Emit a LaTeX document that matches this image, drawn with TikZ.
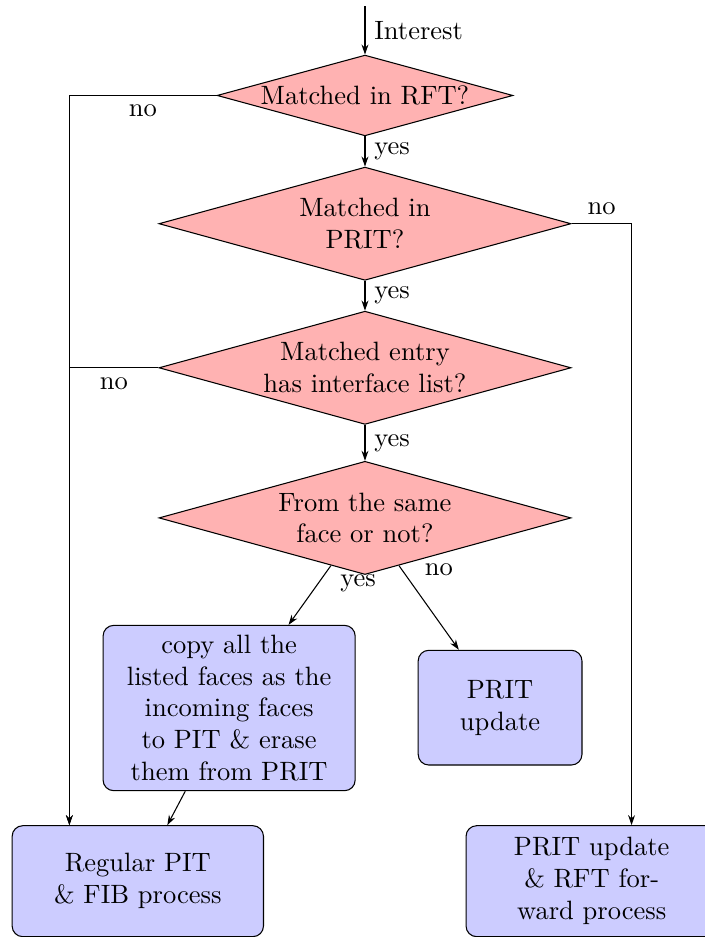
\documentclass[tikz,border=0pt]{standalone}
\usepackage{tikz}
\usetikzlibrary{arrows.meta,positioning,calc,shapes.geometric}
\tikzset{
  decision/.style = {diamond, draw, fill=red!30, align=center, inner sep=0pt,
                     aspect=3.65, minimum width=54.6mm, minimum height=15mm},
  decchica/.style = {decision, minimum width=39.2mm, minimum height=10.7mm},
  proceso/.style  = {rectangle, rounded corners, draw, fill=blue!20,
                     align=center, inner sep=3pt},
  conector/.style = {-{Stealth[length=3.8pt,width=2.6pt]}},
}

\begin{document}
\begin{tikzpicture}
    \useasboundingbox (-48.36mm,12.65mm) rectangle ++(93.41mm,-124.15mm);
    \clip (-48.36mm,12.65mm) rectangle ++(93.41mm,-124.15mm);

    % --- decisiones
    \node[decchica] (rft) at (0,0) {Matched in RFT?};
    \node[decision, below=4.0mm of rft] (prit) {Matched in\\ PRIT?};
    \node[decision, below=3.95mm of prit] (entry) {Matched entry\\ has interface list?};
    \node[decision, below=4.75mm of entry] (fsame) {From the same\\ face or not?};
    \coordinate[above=6.4mm of rft] (src);

    % --- procesos
    \node[proceso, below=6.6mm of fsame, xshift=-18mm,
          minimum width=33.4mm, minimum height=21.9mm] (copy)
      {copy all the\\ listed faces as the\\ incoming faces\\ to PIT \& erase\\ them from PRIT};
    \node[proceso, below=9.9mm of fsame, xshift=17.9mm,
          minimum width=21.7mm, minimum height=15.2mm] (update) {PRIT\\ update};
    \node[proceso, below=4.5mm of copy, xshift=-12.1mm,
          minimum width=33.3mm, minimum height=14.7mm] (regular) {Regular PIT\\ \& FIB process};
    \node[proceso, right=26.7mm of regular,
          minimum width=33.3mm, minimum height=14.7mm] (rftbox) {PRIT update\\ \& RFT for-\\ward process};

    % --- rieles laterales
    \coordinate (leftrail) at ($(rft.west)+(-19.5mm,0)$);
    \coordinate (rightrail) at ($(prit.east)+(7.95mm,0)$);

    % --- flechas
    \draw[conector] (src) -- node[right] {Interest} (rft);
    \draw[conector] (rft) -- node[right] {yes} (prit);
    \draw[conector] (prit) -- node[right] {yes} (entry);
    \draw[conector] (entry) -- node[right] {yes} (fsame);
    \draw[conector] (fsame) -- node[at start, below right] {yes} (copy);
    \draw[conector] (fsame) -- node[at start, right, xshift=2.2mm, yshift=-0.6mm] {no} (update);
    \draw[conector] (copy) -- (regular);
    \draw[conector] (rft.west) -- node[below] {no} (leftrail) -- (leftrail |- regular.north);
    \draw[conector] (entry.west) -- node[below] {no} (entry.west -| leftrail)
      -- (leftrail |- regular.north);
    \draw[conector] (prit.east) -- node[above] {no} (rightrail) -- (rightrail |- rftbox.north);
\end{tikzpicture}
\end{document}
